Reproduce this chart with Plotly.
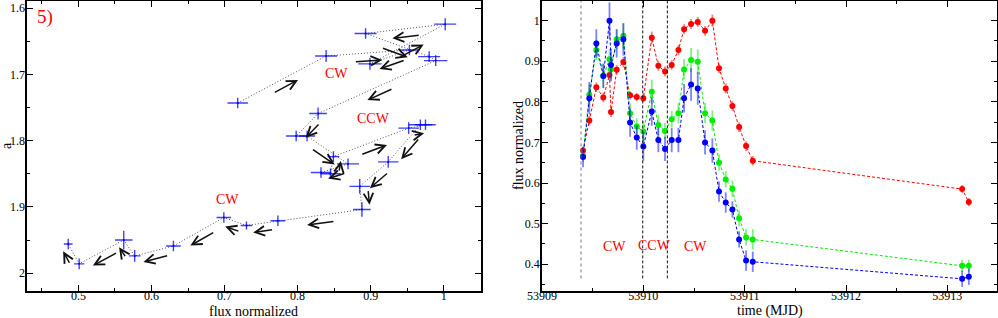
import math
import plotly.graph_objects as go

# ---------------- Left panel: hardness "a" vs normalized flux (time ordered) ----------------
flux = [0.718, 0.839, 0.953, 0.899, 1.002, 0.893, 0.980, 0.989, 0.828, 0.798,
        0.813, 0.869, 0.832, 0.845, 0.849, 0.952, 0.975, 0.968, 0.924, 0.885,
        0.888, 0.773, 0.730, 0.699, 0.630, 0.577, 0.562, 0.501, 0.486]
alpha = [1.743, 1.672, 1.663, 1.684, 1.624, 1.638, 1.673, 1.679, 1.759, 1.793,
         1.793, 1.835, 1.848, 1.850, 1.824, 1.781, 1.776, 1.776, 1.832, 1.869,
         1.904, 1.921, 1.928, 1.916, 1.959, 1.974, 1.950, 1.986, 1.956]
flux_err = [0.014, 0.015, 0.014, 0.016, 0.015, 0.015, 0.015, 0.016, 0.012, 0.014,
            0.011, 0.015, 0.014, 0.014, 0.008, 0.014, 0.014, 0.016, 0.014, 0.014,
            0.012, 0.010, 0.008, 0.010, 0.010, 0.008, 0.012, 0.007, 0.006]
alpha_err = [0.008, 0.009, 0.008, 0.009, 0.009, 0.008, 0.008, 0.008, 0.009, 0.008,
             0.008, 0.008, 0.008, 0.008, 0.008, 0.009, 0.008, 0.008, 0.009, 0.011,
             0.011, 0.008, 0.006, 0.008, 0.008, 0.009, 0.014, 0.008, 0.008]
left_labels = ["CW", "CCW", "CW"]
left_label_x = [0.853, 0.904, 0.704]
left_label_y = [1.698, 1.766, 1.889]

# ---------------- Right panel: light curves ----------------
time_mjd = [53909.405, 53909.467, 53909.536, 53909.605, 53909.666, 53909.681, 53909.737,
            53909.803, 53909.869, 53909.935, 53910.000, 53910.083, 53910.148, 53910.214,
            53910.280, 53910.346, 53910.402, 53910.471, 53910.537, 53910.609, 53910.681,
            53910.747, 53910.813, 53910.879, 53910.945, 53911.014, 53911.080, 53913.146,
            53913.212]
red = [0.680, 0.754, 0.836, 0.811, 0.866, 0.775, 0.879, 0.898, 0.816, 0.812,
       0.809, 0.958, 0.889, 0.875, 0.891, 0.928, 0.979, 0.992, 0.997, 0.975,
       1.000, 0.883, 0.833, 0.790, 0.738, 0.691, 0.655, 0.585, 0.553]
green = [0.667, 0.818, 0.928, 0.864, 0.905, 0.880, 0.954, 0.963, 0.772, 0.739,
         0.727, 0.825, 0.743, 0.728, 0.757, 0.772, 0.880, 0.903, 0.899, 0.772,
         0.754, 0.650, 0.609, 0.586, 0.513, 0.466, 0.461, 0.396, 0.396]
blue = [0.664, 0.809, 0.944, 0.864, 1.000, 0.891, 0.944, 0.954, 0.749, 0.712,
        0.690, 0.776, 0.706, 0.684, 0.706, 0.706, 0.809, 0.843, 0.833, 0.700,
        0.680, 0.579, 0.552, 0.535, 0.461, 0.409, 0.406, 0.364, 0.369]
red_err = [0.010, 0.012, 0.012, 0.012, 0.012, 0.012, 0.012, 0.013, 0.010, 0.010,
           0.010, 0.015, 0.012, 0.012, 0.012, 0.012, 0.012, 0.012, 0.012, 0.012,
           0.015, 0.012, 0.012, 0.012, 0.012, 0.012, 0.012, 0.010, 0.010]
green_err = [0.015, 0.025, 0.025, 0.030, 0.025, 0.025, 0.025, 0.030, 0.025, 0.020,
             0.025, 0.030, 0.025, 0.020, 0.020, 0.025, 0.025, 0.030, 0.030, 0.025,
             0.025, 0.020, 0.020, 0.020, 0.020, 0.020, 0.025, 0.015, 0.015]
blue_err = [0.025, 0.040, 0.035, 0.030, 0.045, 0.040, 0.035, 0.040, 0.035, 0.030,
            0.035, 0.035, 0.030, 0.030, 0.030, 0.030, 0.035, 0.040, 0.040, 0.030,
            0.030, 0.025, 0.025, 0.020, 0.020, 0.025, 0.025, 0.020, 0.020]
boundaries = [53909.385, 53909.994, 53910.237]
right_labels = ["CW", "CCW", "CW"]
right_label_x = [53909.72, 53910.115, 53910.51]
right_label_y = [0.443, 0.445, 0.443]

# ---------------- Layout geometry ----------------
W, H = 998, 318
MT, MB = 1, 27
LX0, LX1 = 27.3 / W, 481 / W
RX0, RX1 = 542 / W, 997 / W
left_xrange = [0.43, 1.051]
left_yrange = [2.027, 1.589]
right_xrange = [53909.0, 53913.49]
right_yrange = [0.334, 1.0485]
plot_h = H - MT - MB

FONT = "Liberation Serif"
fig = go.Figure()

# Left: dotted path
fig.add_trace(go.Scatter(x=flux, y=alpha, mode="lines",
                         line=dict(color="#555555", width=1, dash="1px,2px"),
                         xaxis="x", yaxis="y", showlegend=False))
# Left: crosses
fig.add_trace(go.Scatter(x=flux, y=alpha, mode="markers",
                         marker=dict(size=2, color="#0000ff"),
                         error_x=dict(type="data", array=flux_err, color="rgba(0,0,255,0.75)",
                                      thickness=1.4, width=0),
                         error_y=dict(type="data", array=alpha_err, color="rgba(0,0,255,0.75)",
                                      thickness=1.4, width=0),
                         xaxis="x", yaxis="y", showlegend=False))

# Right: light curves
for vals, errs, col, ecol in [(red, red_err, "#ff0000", "rgba(255,0,0,0.5)"),
                              (green, green_err, "#00ee00", "rgba(0,230,0,0.5)"),
                              (blue, blue_err, "#0000ff", "rgba(0,0,255,0.5)")]:
    fig.add_trace(go.Scatter(x=time_mjd, y=vals, mode="lines+markers",
                             line=dict(color=col, width=1, dash="3px,2px"),
                             marker=dict(size=6, color=col),
                             error_y=dict(type="data", array=errs, color=ecol,
                                          thickness=1.8, width=0),
                             xaxis="x2", yaxis="y2", showlegend=False))

# Arrows along the left path, computed from consecutive points
sx = (LX1 - LX0) * W / (left_xrange[1] - left_xrange[0])
sy = plot_h / (left_yrange[0] - left_yrange[1])
annotations = []
for i in range(len(flux) - 1):
    dxp = (flux[i + 1] - flux[i]) * sx
    dyp = (alpha[i + 1] - alpha[i]) * sy
    L = math.hypot(dxp, dyp)
    if L < 14:
        continue
    ux, uy = dxp / L, dyp / L
    nx, ny = -uy, ux
    if abs(ny) < 0.3:
        if nx < 0:
            nx, ny = -nx, -ny
    elif ny < 0:
        nx, ny = -nx, -ny
    A = min(28.0, 0.65 * L)
    fracs = [0.3, 0.72] if L > 130 else [0.5]
    for f in fracs:
        cx = flux[i] + f * (flux[i + 1] - flux[i])
        cy = alpha[i] + f * (alpha[i + 1] - alpha[i])
        hx = cx + (ux * A / 2 + nx * 8) / sx
        hy = cy + (uy * A / 2 + ny * 8) / sy
        annotations.append(dict(x=hx, y=hy, xref="x", yref="y", text="",
                                showarrow=True, ax=-ux * A, ay=-uy * A,
                                axref="pixel", ayref="pixel",
                                arrowhead=5, arrowsize=1.25, arrowwidth=1.5,
                                arrowcolor="#111111", standoff=0, startstandoff=0))

for t, xv, yv in zip(left_labels, left_label_x, left_label_y):
    annotations.append(dict(x=xv, y=yv, xref="x", yref="y", text=t, showarrow=False,
                            font=dict(family=FONT, size=14, color="#ff0000")))
for t, xv, yv in zip(right_labels, right_label_x, right_label_y):
    annotations.append(dict(x=xv, y=yv, xref="x2", yref="y2", text=t, showarrow=False,
                            font=dict(family=FONT, size=14, color="#ff0000")))
annotations.append(dict(x=0.454, y=1.613, xref="x", yref="y", text="5)", showarrow=False,
                        font=dict(family=FONT, size=19, color="#ff0000")))

# Axis titles as annotations (pixel positions converted to paper coords)
def px_to_paper(px, py):
    return px / W, (H - MB - py) / plot_h

title_font = dict(family=FONT, size=14, color="black")
for text, px, py, ang in [("flux normalized", 254, 311, 0), ("time (MJD)", 769.5, 311, 0),
                          ("a", 6, 146, -90), ("flux normalized", 518, 146, -90)]:
    xp, yp = px_to_paper(px, py)
    annotations.append(dict(x=xp, y=yp, xref="paper", yref="paper", text=text,
                            showarrow=False, textangle=ang, font=title_font,
                            xanchor="center", yanchor="middle"))

shapes = []
for k, b in enumerate(boundaries):
    shapes.append(dict(type="line", xref="x2", yref="y2", x0=b, x1=b, y0=0.365,
                       y1=right_yrange[1],
                       line=dict(color="#777777" if k == 0 else "#111111", width=1,
                                 dash="dot" if k == 0 else "3px,2px")))

axis_common = dict(showline=True, linecolor="black", linewidth=1.6, mirror="allticks",
                   ticks="inside", ticklen=6, tickwidth=1.3, tickcolor="black",
                   showgrid=False, zeroline=False, automargin=False,
                   tickfont=dict(family=FONT, size=12, color="black"))

fig.update_layout(
    width=W, height=H,
    margin=dict(l=0, r=0, t=MT, b=MB, autoexpand=False),
    paper_bgcolor="white", plot_bgcolor="white",
    xaxis=dict(domain=[LX0, LX1], range=left_xrange, tickmode="linear", tick0=0.5, dtick=0.1,
               minor=dict(dtick=0.05, tick0=0.45, ticks="inside", ticklen=3, tickcolor="black"),
               ticklabelstandoff=-7, anchor="y", **axis_common),
    yaxis=dict(domain=[0, 1], range=left_yrange, tickmode="linear", tick0=1.6, dtick=0.1,
               minor=dict(dtick=0.05, tick0=1.55, ticks="inside", ticklen=3, tickcolor="black"),
               ticklabelstandoff=-2, anchor="x", **axis_common),
    xaxis2=dict(domain=[RX0, RX1], range=right_xrange, tickmode="linear", tick0=53909, dtick=1,
                tickformat="d",
                minor=dict(dtick=0.5, tick0=53909, ticks="inside", ticklen=3, tickcolor="black"),
                ticklabelstandoff=-7, anchor="y2", **axis_common),
    yaxis2=dict(domain=[0, 1], range=right_yrange, tickmode="linear", tick0=0.4, dtick=0.1,
                minor=dict(dtick=0.05, tick0=0.35, ticks="inside", ticklen=3, tickcolor="black"),
                ticklabelstandoff=-2, anchor="x2", **axis_common),
    annotations=annotations,
    shapes=shapes,
)

fig.write_html("out.html", config={"displayModeBar": False},
               post_script="document.body.style.margin='0';document.body.style.padding='0';")
